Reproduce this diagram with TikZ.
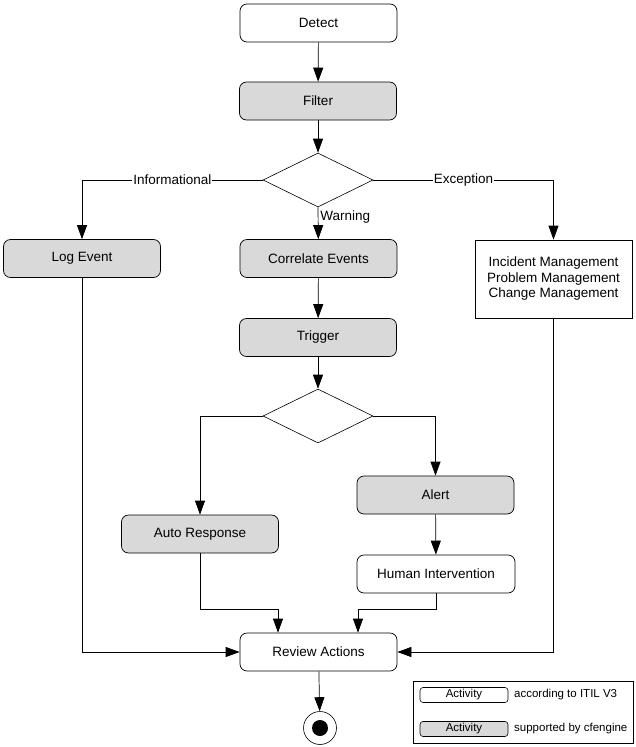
\documentclass[tikz,border=0pt]{standalone}
\usepackage{fontspec}
\setmainfont{Liberation Sans}
\usetikzlibrary{arrows.meta,shapes.geometric}
\begin{document}
\begin{tikzpicture}[x=1pt,y=-1pt,
  every node/.style={font=\fontsize{13.5}{15.5}\selectfont},
  act/.style={draw,rounded corners=7pt,minimum width=157pt,minimum height=38pt,inner sep=0pt,line width=0.7pt},
  cf/.style={act,fill=black!15},
  plain/.style={draw,minimum width=157pt,minimum height=78pt,align=center,line width=0.7pt},
  dec/.style={draw,diamond,minimum width=110pt,minimum height=54pt,inner sep=0pt,aspect=2,line width=0.6pt},
  arr/.style={-{Triangle[length=14pt,width=10pt]},line width=0.7pt},
  lab/.style={fill=white,inner sep=1pt},
  leg/.style={draw,rounded corners=3pt,minimum width=88pt,minimum height=15pt,inner sep=0pt,font=\fontsize{11.5}{13}\selectfont,line width=0.6pt}
]
\useasboundingbox (0,0) rectangle (636,747);
\node[act] (detect) at (318.5,23) {Detect};
\node[cf] (filter) at (318,101) {Filter};
\node[dec] (d1) at (318,180) {};
\node[cf] (log) at (82,258.5) {Log Event};
\node[cf] (corr) at (318.5,258.5) {Correlate Events};
\node[plain] (inc) at (553.5,279) {Incident Management\\Problem Management\\Change Management};
\node[cf] (trig) at (318,337.5) {Trigger};
\node[dec] (d2) at (318,416) {};
\node[cf] (alert) at (435.5,495) {Alert};
\node[cf] (auto) at (200,534) {Auto Response};
\node[act,minimum width=158pt] (human) at (436,574) {Human Intervention};
\node[act] (review) at (318.5,652) {Review Actions};
\node[circle,draw,minimum size=33pt,inner sep=0pt,line width=0.6pt] (end) at (320,728) {};
\node[circle,fill=black,minimum size=16pt,inner sep=0pt] (endin) at (end) {};

\draw[arr] (detect) -- (filter);
\draw[arr] (filter) -- (d1);
\coordinate (c1) at (82,180);
\coordinate (c2) at (553.5,180);
\draw[arr] (d1.west) -- node[lab,pos=0.5] {Informational} (c1) -- (log);
\draw[arr] (d1.east) -- node[lab,pos=0.5] {Exception} (c2) -- (inc);
\draw[arr] (d1.south) -- node[right,inner sep=2pt,pos=0.3] {Warning} (corr);
\draw[arr] (corr) -- (trig);
\draw[arr] (trig) -- (d2);
\coordinate (c3) at (200,416);
\coordinate (c4) at (435.5,416);
\draw[arr] (d2.west) -- (c3) -- (auto);
\draw[arr] (d2.east) -- (c4) -- (alert);
\draw[arr] (alert) -- (human);
\coordinate (c5) at (200,609);
\coordinate (c6) at (278,609);
\coordinate (c7) at (436,609);
\coordinate (c8) at (358,609);
\draw[arr] (auto.south) -- (c5) -- (c6) -- (c6 |- review.north);
\draw[arr] (human.south) -- (c7) -- (c8) -- (c8 |- review.north);
\coordinate (c9) at (82,652);
\coordinate (c10) at (553.5,652);
\draw[arr] (log.south) -- (c9) -- (review.west);
\draw[arr] (inc.south) -- (c10) -- (review.east);
\draw[arr] (review) -- (end);

% legend
\node[draw,minimum width=220pt,minimum height=62pt,inner sep=0pt,line width=0.6pt] (legbox) at (523,712) {};
\node[leg] (l1) at (464,695) {Activity};
\node[leg,fill=black!15] (l2) at (464,729) {Activity};
\node[anchor=west,font=\fontsize{11.5}{13}\selectfont,inner sep=0pt] (t1) at (514,695) {according to ITIL V3};
\node[anchor=west,font=\fontsize{11.5}{13}\selectfont,inner sep=0pt] (t2) at (514,729) {supported by cfengine};
\end{tikzpicture}
\end{document}
